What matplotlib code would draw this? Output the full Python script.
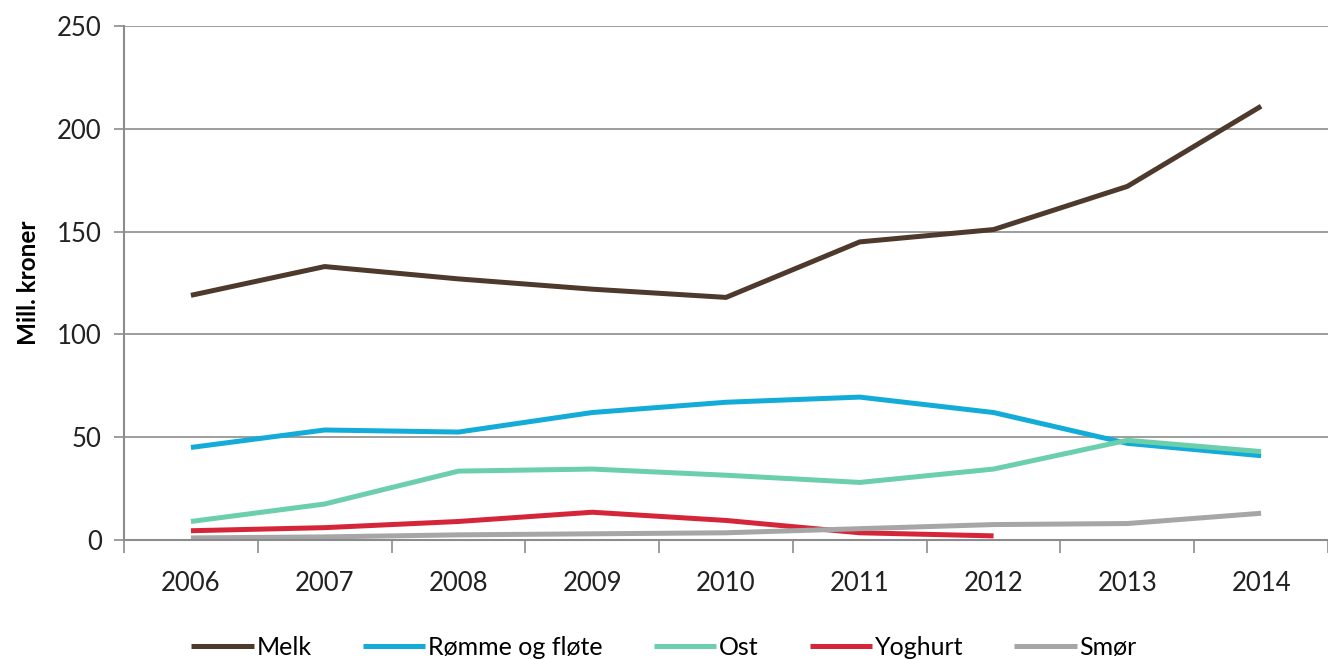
import matplotlib.pyplot as plt
import numpy as np

plt.rcParams['font.family'] = ['Lato', 'DejaVu Sans']

years = ['2006', '2007', '2008', '2009', '2010', '2011', '2012', '2013', '2014']

melk = [119, 133, 127, 122, 118, 145, 151, 172, 211]
romme = [45, 53.5, 52.5, 62, 67, 69.5, 62, 47, 41]
ost = [9, 17.5, 33.5, 34.5, 31.5, 28, 34.5, 48.5, 43]
yoghurt = [4.5, 6, 9, 13.5, 9.5, 3.5, 2]
smor = [1, 1.5, 2.5, 3, 3.5, 5.5, 7.5, 8, 13]

series = [
    ('Melk', melk, '#4d3a2c'),
    ('Rømme og fløte', romme, '#13acd8'),
    ('Ost', ost, '#6ccfab'),
    ('Yoghurt', yoghurt, '#d42638'),
    ('Smør', smor, '#a6a6a6'),
]

fig = plt.figure(figsize=(13.28, 6.59), dpi=100)
ax = fig.add_axes([0.0934, 0.1806, 0.9066, 0.7799])

x = np.arange(len(years))
for label, vals, color in series:
    ax.plot(x[:len(vals)], vals, color=color, lw=3.6, label=label,
            solid_capstyle='butt', solid_joinstyle='round')

ax.set_xlim(-0.5, 8.5)
ax.set_ylim(0, 250)
ax.set_yticks(range(0, 251, 50))
ax.yaxis.grid(True, color='#8c8c8c', lw=1.2)
ax.set_axisbelow(True)

ax.set_xticks(x)
ax.set_xticklabels(years)
ax.set_xticks(np.arange(-0.5, 9, 1), minor=True)
ax.tick_params(axis='x', which='major', length=0, pad=22, labelsize=18.5, colors='#222222')
ax.tick_params(axis='x', which='minor', length=9, width=1.2, color='#8c8c8c')
ax.tick_params(axis='y', length=7, width=1.2, color='#8c8c8c', pad=9, labelsize=18.5, labelcolor='#222222')

for side in ['top', 'right']:
    ax.spines[side].set_visible(False)
for side in ['left', 'bottom']:
    ax.spines[side].set_color('#8c8c8c')
    ax.spines[side].set_linewidth(1.5)

ax.set_ylabel('Mill. kroner', fontsize=17.5, fontweight='bold', labelpad=12)

fig.legend(loc='center', bbox_to_anchor=(0.5, 0.018), ncol=5, frameon=False,
           fontsize=18, handlelength=2.5, handletextpad=0.1, columnspacing=2.05)

plt.savefig('out.png', dpi=100)
plt.close()
